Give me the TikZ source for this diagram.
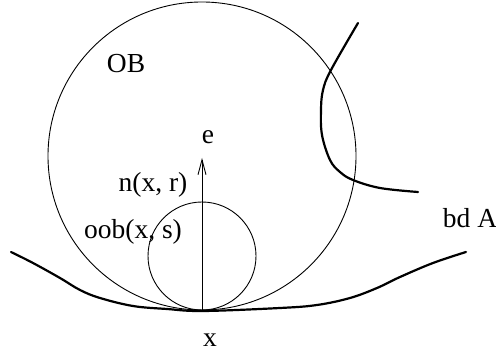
\documentclass[tikz,border=0pt]{standalone}
\usepackage{fontspec}
\setmainfont{Liberation Serif}
\usetikzlibrary{positioning, arrows.meta}

\begin{document}
\begin{tikzpicture}[
        x=1pt, y=-1pt,
        ball/.style={line width=0.9pt},
        bdline/.style={line width=2.2pt, line cap=round},
        lbl/.style={font=\fontsize{27.5}{32}\selectfont, inner sep=0pt},
        normal/.style={line width=0.9pt, -{Straight Barb[length=15pt, width=8pt, line width=0.9pt]}}
    ]
    \useasboundingbox (0,0) rectangle (496,355);

    % centres and points
    \coordinate (ob) at (202,156);
    \coordinate (oob) at (202,256);
    \coordinate (x) at (202,310);
    \coordinate (tip) at (202,158);

    % outer ball
    \draw[ball] (ob) circle (154);

    % inner ball
    \draw[ball] (oob) circle (54);

    % normal vector
    \draw[normal] (x) -- (tip);

    % boundary below
    \draw[bdline] plot[smooth, tension=0.6] coordinates {
        (11,252) (33,263) (60,278) (80,290) (100,298) (133,306) (167,309)
        (203,311) (280,308) (317,305) (350,298) (377,288) (400,277)
        (433,263) (466,252)};

    % boundary on the right
    \draw[bdline] plot[smooth, tension=0.6] coordinates {
        (358,23) (331,70) (323,90) (321,110) (322,135) (330,160)
        (340,172) (353,180) (380,188) (418,192)};

    % labels
    \node[lbl] (lob) at (126,64) {OB};
    \node[lbl] (le) at (208,137) {e};
    \node[lbl] (ln) at (153,185) {n(x, r)};
    \node[lbl] (loob) at (133,232) {oob(x, s)};
    \node[lbl] (lx) at (210,340) {x};
    \node[lbl] (lbd) at (470,218) {bd A};

\end{tikzpicture}
\end{document}
